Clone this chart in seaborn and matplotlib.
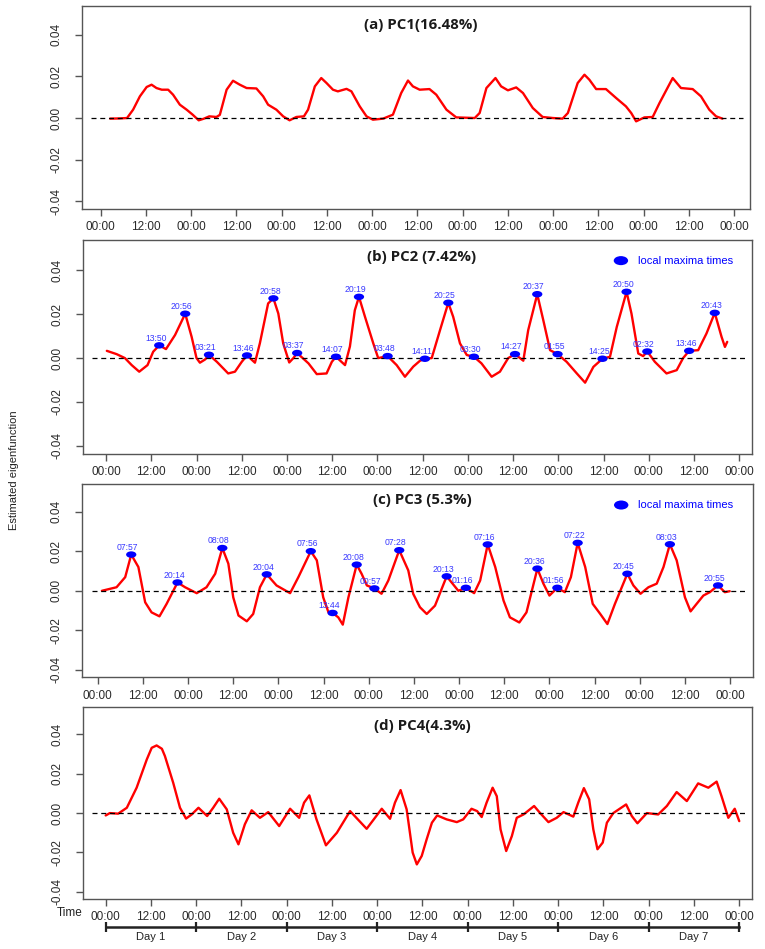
import matplotlib
matplotlib.use("Agg")
import matplotlib.pyplot as plt
from matplotlib.markers import MarkerStyle
from matplotlib.transforms import Affine2D
import pandas as pd
import seaborn as sns

# curves: (hour since day 1 00:00, eigenfunction value)
pc1 = [(2.5, -0.0003), (5.0, -0.0002), (7.0, 0.0), (8.6, 0.004), (10.4, 0.0104), (12.2, 0.0149),
       (13.5, 0.016), (14.8, 0.0144), (16.2, 0.0136), (17.9, 0.0136), (19.2, 0.0112), (21.0, 0.0064),
       (22.8, 0.004), (24.4, 0.0016), (26.0, -0.0011), (27.4, -0.0003), (28.8, 0.0008), (30.7, 0.0005),
       (31.6, 0.0015), (33.4, 0.0136), (35.1, 0.0179), (36.9, 0.016), (38.7, 0.0144), (41.3, 0.0142),
       (43.1, 0.0104), (44.4, 0.0064), (46.6, 0.004), (48.4, 0.0008), (50.1, -0.0011), (51.9, 0.0005),
       (53.9, 0.0008), (55.0, 0.004), (56.8, 0.0152), (58.5, 0.0192), (59.9, 0.0168), (61.6, 0.0136),
       (62.9, 0.0128), (65.2, 0.014), (66.5, 0.0128), (68.7, 0.0056), (70.5, 0.0008), (72.2, -0.0008),
       (74.9, -0.0003), (77.5, 0.0016), (79.7, 0.012), (81.5, 0.018), (82.8, 0.0152), (84.6, 0.0136),
       (87.2, 0.0139), (89.0, 0.0112), (91.7, 0.004), (94.3, 0.0003), (99.2, 0.0), (100.5, 0.0024),
       (102.3, 0.0144), (104.7, 0.0192), (106.2, 0.0152), (108.0, 0.0133), (110.2, 0.0147), (112.0, 0.012),
       (114.6, 0.0048), (117.2, 0.0005), (119.9, 0.0), (122.5, -0.0003), (123.9, 0.0024), (126.5, 0.0168),
       (128.3, 0.0208), (129.6, 0.0184), (131.4, 0.0139), (134.0, 0.0139), (136.7, 0.0096), (139.3, 0.0056),
       (140.7, 0.0024), (142.0, -0.0016), (144.2, 0.0003), (146.4, 0.0005), (148.2, 0.0072), (151.7, 0.0192),
       (153.9, 0.0144), (157.0, 0.0139), (159.2, 0.0104), (161.4, 0.004), (163.2, 0.0008), (164.9, -0.0003)]

pc2 = [(0.2, 0.0033), (2.8, 0.0018), (5.0, 0.0), (6.8, -0.0032), (8.8, -0.0062), (11.0, -0.0032),
       (12.5, 0.0029), (14.1, 0.0058), (15.9, 0.0041), (18.3, 0.0105), (21.0, 0.0202), (22.7, 0.0097),
       (24.0, 0.0), (24.9, -0.0021), (26.3, -0.0006), (27.3, 0.0015), (29.4, -0.0017), (32.4, -0.007),
       (34.2, -0.0062), (36.0, -0.0017), (37.4, 0.0012), (39.5, -0.0021), (40.8, 0.0067), (43.0, 0.0249),
       (44.4, 0.0272), (45.7, 0.0203), (47.0, 0.0067), (48.6, -0.002), (49.7, 0.0), (50.7, 0.0023),
       (53.7, -0.0024), (55.9, -0.0073), (58.5, -0.007), (59.9, -0.0017), (61.0, 0.0006), (63.4, -0.0032),
       (64.7, 0.0053), (66.0, 0.0218), (67.1, 0.0279), (68.7, 0.0188), (70.9, 0.0067), (72.2, 0.0),
       (74.7, 0.0009), (77.1, -0.0032), (79.3, -0.0085), (81.5, -0.0039), (83.3, -0.0012), (84.6, -0.0003),
       (86.4, 0.0), (88.6, 0.0127), (90.8, 0.0252), (92.1, 0.0188), (93.9, 0.0067), (95.7, 0.0014),
       (97.6, 0.0006), (99.6, -0.0024), (102.3, -0.0085), (104.5, -0.0062), (106.7, 0.0), (108.5, 0.0018),
       (110.7, -0.0012), (112.0, 0.0127), (114.4, 0.0291), (116.0, 0.0173), (117.8, 0.0036), (119.8, 0.0018),
       (122.2, -0.0017), (124.9, -0.007), (127.1, -0.0112), (129.3, -0.004), (131.7, -0.0003), (133.7, 0.0006),
       (135.5, 0.0142), (138.1, 0.0302), (139.4, 0.0203), (141.2, 0.0021), (142.5, 0.0009), (143.6, 0.003),
       (145.6, -0.0017), (148.7, -0.007), (151.4, -0.0055), (153.1, 0.0), (154.7, 0.0033), (157.1, 0.0036),
       (159.3, 0.0112), (161.5, 0.0206), (163.3, 0.0097), (164.2, 0.0051), (164.8, 0.0074)]

pc3 = [(1.1, 0.0), (5.0, 0.0018), (7.3, 0.0069), (8.9, 0.0183), (10.8, 0.012), (12.6, -0.0058),
       (14.3, -0.0109), (16.4, -0.0129), (18.3, -0.0066), (21.2, 0.0042), (23.2, 0.0018), (26.3, -0.0012),
       (28.9, 0.0018), (31.2, 0.0086), (33.1, 0.0216), (34.7, 0.0137), (36.0, -0.0033), (37.4, -0.0125),
       (39.6, -0.0154), (41.3, -0.0117), (43.1, 0.0018), (44.9, 0.0083), (47.5, 0.0027), (51.1, -0.0012),
       (53.3, 0.0069), (56.6, 0.02), (58.2, 0.0154), (59.9, -0.0033), (61.3, -0.0109), (62.4, -0.0112),
       (63.9, -0.0134), (65.1, -0.0171), (66.6, -0.0033), (68.8, 0.0132), (70.1, 0.0086), (71.5, 0.0027),
       (73.5, 0.0012), (75.4, -0.0015), (77.2, 0.0052), (80.1, 0.0205), (82.5, 0.0103), (83.8, -0.0015),
       (85.6, -0.0083), (87.4, -0.0117), (89.6, -0.0075), (92.7, 0.0073), (95.8, 0.0), (97.8, 0.0015),
       (100.0, -0.0012), (101.6, 0.0052), (103.6, 0.0234), (105.6, 0.012), (107.8, -0.0049), (109.5, -0.0134),
       (112.0, -0.016), (113.9, -0.0109), (116.8, 0.0112), (118.4, 0.0036), (120.0, -0.0024), (122.1, 0.0015),
       (124.1, -0.0007), (125.7, 0.0069), (127.5, 0.0242), (129.5, 0.012), (131.5, -0.0066), (133.5, -0.0117),
       (135.4, -0.0168), (137.4, -0.0066), (140.7, 0.0086), (142.3, 0.0027), (144.2, -0.0015), (146.3, 0.0018),
       (148.5, 0.0036), (150.3, 0.012), (152.0, 0.0235), (153.8, 0.0154), (156.0, -0.0033), (157.5, -0.0104),
       (159.1, -0.0066), (160.9, -0.0024), (162.6, -0.0007), (164.8, 0.0027), (166.6, -0.0007), (167.9, -0.0002)]

pc4 = [(0.0, -0.0012), (1.1, 0.0), (3.3, -0.0003), (5.6, 0.0027), (8.2, 0.0129), (10.9, 0.0273),
       (12.2, 0.0332), (13.5, 0.0344), (14.9, 0.0327), (15.7, 0.029), (17.9, 0.0154), (19.7, 0.0027),
       (21.3, -0.0028), (22.8, -0.0007), (24.6, 0.0027), (26.9, -0.0015), (28.5, 0.0027), (30.1, 0.0073),
       (32.1, 0.0019), (33.8, -0.01), (35.2, -0.0159), (36.9, -0.0057), (38.7, 0.0014), (40.9, -0.0024),
       (43.1, 0.0005), (46.0, -0.0066), (48.9, 0.0022), (51.3, -0.0024), (52.6, 0.0053), (54.0, 0.009),
       (55.9, -0.0032), (58.4, -0.0164), (61.3, -0.0100), (64.8, 0.001), (69.2, -0.008), (71.4, -0.0024),
       (73.2, 0.0022), (75.4, -0.0029), (76.7, 0.0053), (78.2, 0.0117), (79.8, 0.0019), (80.3, -0.0049),
       (81.4, -0.0201), (82.5, -0.0261), (83.8, -0.0218), (85.1, -0.0134), (86.5, -0.0049), (87.9, -0.0012),
       (90.4, -0.0032), (93.1, -0.0046), (94.8, -0.0032), (97.0, 0.0022), (98.5, 0.001), (99.7, -0.002),
       (101.0, 0.0053), (102.6, 0.0129), (103.7, 0.0086), (104.7, -0.0083), (106.2, -0.0193), (107.7, -0.0117),
       (109.0, -0.0024), (110.8, -0.0007), (113.6, 0.0036), (115.2, 0.0), (117.4, -0.0046), (119.6, -0.0024),
       (121.4, 0.0005), (124.0, -0.0018), (125.3, 0.0053), (126.8, 0.0127), (128.2, 0.007), (129.3, -0.0083),
       (130.4, -0.0184), (131.8, -0.015), (132.9, -0.0049), (134.6, 0.0), (138.0, 0.0044), (139.5, -0.0015),
       (141.0, -0.0052), (143.5, 0.0), (146.5, -0.0007), (148.8, 0.0036), (151.4, 0.0107), (154.1, 0.0061),
       (157.1, 0.0151), (159.8, 0.0129), (162.0, 0.016), (163.3, 0.0086), (165.1, -0.0024), (166.8, 0.0022),
       (168.0, -0.0041)]

# local maxima: (label, hour, value)
pc2_max = [("13:50", 14.1, 0.0058), ("20:56", 21.0, 0.0202), ("03:21", 27.3, 0.0015), ("13:46", 37.4, 0.0012),
           ("20:58", 44.4, 0.0272), ("03:37", 50.7, 0.0023), ("14:07", 61.0, 0.0006), ("20:19", 67.1, 0.0279),
           ("03:48", 74.7, 0.0009), ("14:11", 84.6, -0.0003), ("20:25", 90.8, 0.0252), ("03:30", 97.6, 0.0006),
           ("14:27", 108.5, 0.0018), ("20:37", 114.4, 0.0291), ("01:55", 119.8, 0.0018), ("14:25", 131.7, -0.0003),
           ("20:50", 138.1, 0.0302), ("02:32", 143.6, 0.003), ("13:46", 154.7, 0.0033), ("20:43", 161.5, 0.0206)]

pc3_max = [("07:57", 8.9, 0.0183), ("20:14", 21.2, 0.0042), ("08:08", 33.1, 0.0216), ("20:04", 44.9, 0.0083),
           ("07:56", 56.6, 0.02), ("13:44", 62.4, -0.0112), ("20:08", 68.8, 0.0132), ("00:57", 73.5, 0.0012),
           ("07:28", 80.1, 0.0205), ("20:13", 92.7, 0.0073), ("01:16", 97.8, 0.0015), ("07:16", 103.6, 0.0234),
           ("20:36", 116.8, 0.0112), ("01:56", 122.1, 0.0015), ("07:22", 127.5, 0.0242), ("20:45", 140.7, 0.0086),
           ("08:03", 152.0, 0.0235), ("20:55", 164.8, 0.0027)]

titles = ["(a) PC1(16.48%)", "(b) PC2 (7.42%)", "(c) PC3 (5.3%)", "(d) PC4(4.3%)"]
x_ticks = list(range(0, 169, 12))
x_tick_labels = ["00:00" if h % 24 == 0 else "12:00" for h in x_ticks]
y_ticks = [-0.04, -0.02, 0.0, 0.02, 0.04]
day_labels = ["Day 1", "Day 2", "Day 3", "Day 4", "Day 5", "Day 6", "Day 7"]

sns.set_style("ticks")
plt.rcParams['font.family'] = ['Liberation Sans', 'DejaVu Sans']

W, H = 765, 949
fig = plt.figure(figsize=(W / 100, H / 100), dpi=100)


def box(l, t, r, b):
    return [l / W, 1 - b / H, (r - l) / W, (b - t) / H]


# pixel boxes and x ranges of the four panels
panels = [
    (pc1, None, box(82, 6, 750, 209), (-4.95, 172.2), 19, None),
    (pc2, pc2_max, box(82.7, 240, 751.7, 454), (-6.2, 171.3), 17, (0.9716, 0.904)),
    (pc3, pc3_max, box(82.3, 484.3, 752.7, 677.3), (-4.1, 174.0), 16, (0.9706, 0.893)),
    (pc4, None, box(82.7, 707.3, 751.7, 899), (-6.1, 171.3), 19, None),
]
ylim = (-0.0437, 0.0538)
ell = MarkerStyle("o", transform=Affine2D().scale(1.35, 0.85))

axes = []
for (curve, maxima, rect, xlim, title_off, leg_pos), title in zip(panels, titles):
    ax = fig.add_axes(rect)
    df = pd.DataFrame(curve, columns=["hour", "value"])
    sns.lineplot(data=df, x="hour", y="value", color="red", lw=1.7, estimator=None, ax=ax,
                 solid_joinstyle="round", solid_capstyle="round")
    ax.axhline(0, xmin=0.014, xmax=0.99, color="black", lw=0.9, ls=(0, (4, 3)))

    if maxima is not None:
        mk = pd.DataFrame(maxima, columns=["label", "hour", "value"])
        sns.scatterplot(data=mk, x="hour", y="value", color="blue", s=30, marker=ell,
                        edgecolor="none", ax=ax, zorder=3, label="local maxima times")
        for _, r in mk.iterrows():
            ax.annotate(r["label"], (r["hour"], r["value"]), xytext=(-2.5, 5.2),
                        textcoords="offset points", ha="center", va="center",
                        fontsize=6.2, color="#3838ff")
        ax.legend(loc="center right", bbox_to_anchor=leg_pos, frameon=False, fontsize=8,
                  labelcolor="blue", handletextpad=0.5, borderaxespad=0, borderpad=0,
                  markerscale=1.4)

    ax.set_xlim(xlim)
    ax.set_ylim(ylim)
    ax.set_xticks(x_ticks)
    ax.set_xticklabels(x_tick_labels)
    ax.set_yticks(y_ticks)
    ax.set_yticklabels([f"{v:.2f}" for v in y_ticks])
    for lbl in ax.get_yticklabels():
        lbl.set_rotation(90)
        lbl.set_va("center")
    ax.set_xlabel("")
    ax.set_ylabel("")
    ax.tick_params(axis="both", direction="out", length=5, width=1, color="#555555",
                   labelsize=8.5, labelcolor="#2a2a2a")
    ax.tick_params(axis="x", pad=4)
    ax.tick_params(axis="y", pad=9)
    for sp in ax.spines.values():
        sp.set_visible(True)
        sp.set_color("#555555")
        sp.set_linewidth(1)

    h_px = rect[3] * H
    ax.text(0.507, 1 - title_off / h_px, title, transform=ax.transAxes, ha="center", va="center",
            fontsize=10.8, fontweight="bold", family=["Open Sans", "DejaVu Sans"], color="#1a1a1a")
    axes.append(ax)

fig.text(14 / W, 1 - 470 / H, "Estimated eigenfunction", rotation=90, ha="center", va="center",
         fontsize=8, color="#222222")
fig.text(70 / W, 1 - 913 / H, "Time", ha="center", va="center", fontsize=8.5, color="#222222")

# day bracket under the last panel
d_rect = panels[3][2]
axb = fig.add_axes([d_rect[0], 1 - 926.7 / H, d_rect[2], 0.0001])
axb.set_xlim(panels[3][3])
axb.patch.set_visible(False)
for s in ["top", "left", "right"]:
    axb.spines[s].set_visible(False)
axb.spines["bottom"].set_bounds(0, 168)
axb.spines["bottom"].set_linewidth(1.8)
axb.spines["bottom"].set_color("#222222")
axb.set_yticks([])
axb.set_xticks(range(0, 169, 24))
axb.set_xticklabels([])
axb.set_xticks([12 + 24 * i for i in range(len(day_labels))], minor=True)
axb.set_xticklabels(day_labels, minor=True)
axb.tick_params(axis="x", which="major", direction="inout", length=7, width=1.6, color="#222222")
axb.tick_params(axis="x", which="minor", length=0, pad=3.5, labelsize=8, labelcolor="#222222")

fig.savefig("out.png", dpi=100)
